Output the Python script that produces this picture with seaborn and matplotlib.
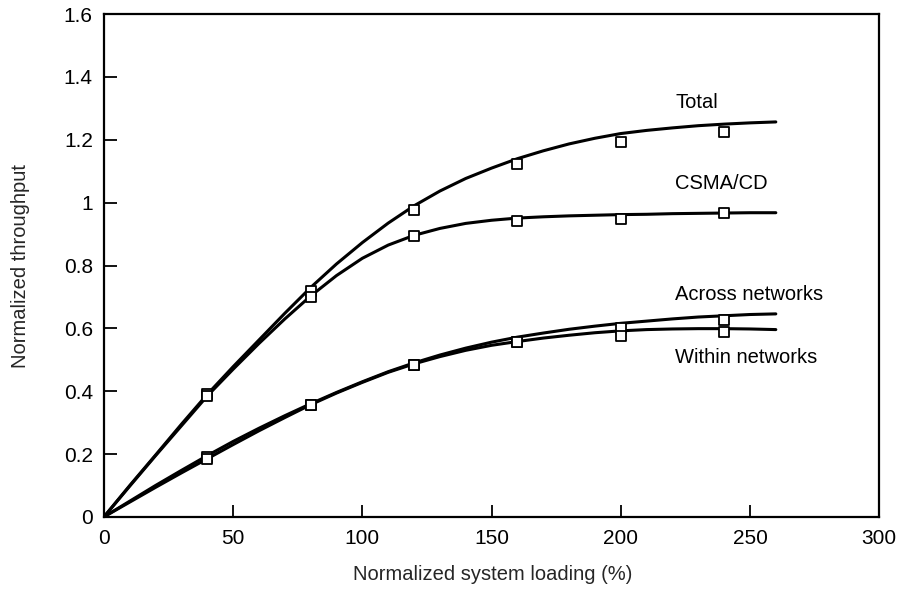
import matplotlib
matplotlib.use("Agg")
import matplotlib.pyplot as plt
import numpy as np
import pandas as pd
import seaborn as sns

# Smoothed throughput curves, read every 10 % of system loading
curve_load = [0, 10, 20, 30, 40, 50, 60, 70, 80, 90, 100, 110, 120, 130,
              140, 150, 160, 170, 180, 190, 200, 210, 220, 230, 240, 250, 260]
total_curve = [0, 0.10, 0.197, 0.295, 0.39, 0.478, 0.563, 0.648, 0.73, 0.805, 0.873, 0.935,
               0.99, 1.037, 1.077, 1.11, 1.14, 1.165, 1.187, 1.205, 1.22, 1.23, 1.238,
               1.245, 1.25, 1.254, 1.257]
csma_curve = [0, 0.098, 0.195, 0.29, 0.385, 0.47, 0.552, 0.63, 0.703, 0.768, 0.823, 0.865,
              0.896, 0.918, 0.934, 0.944, 0.951, 0.955, 0.958, 0.96, 0.962, 0.963, 0.965,
              0.966, 0.967, 0.968, 0.968]
across_curve = [0, 0.05, 0.10, 0.148, 0.195, 0.24, 0.282, 0.322, 0.36, 0.396, 0.43, 0.462,
                0.49, 0.515, 0.537, 0.556, 0.572, 0.585, 0.597, 0.607, 0.616, 0.623, 0.63,
                0.636, 0.64, 0.644, 0.646]
within_curve = [0, 0.047, 0.094, 0.14, 0.185, 0.23, 0.274, 0.316, 0.357, 0.394, 0.428, 0.46,
                0.487, 0.51, 0.53, 0.546, 0.558, 0.569, 0.578, 0.586, 0.592, 0.596, 0.598,
                0.599, 0.599, 0.598, 0.596]

# Measured points (open squares)
point_load = [40, 80, 120, 160, 200, 240]
total_pts = [0.39, 0.72, 0.978, 1.122, 1.193, 1.225]
csma_pts = [0.385, 0.70, 0.893, 0.943, 0.949, 0.968]
across_pts = [0.19, 0.357, 0.482, 0.556, 0.600, 0.628]
within_pts = [0.185, 0.357, 0.482, 0.556, 0.575, 0.587]

series_names = ["Total", "CSMA/CD", "Across networks", "Within networks"]
label_pos = {
    "Total": (221, 1.32),
    "CSMA/CD": (221, 1.061),
    "Across networks": (221, 0.708),
    "Within networks": (221, 0.508),
}

x_ticks = [0, 50, 100, 150, 200, 250, 300]
y_ticks = [0, 0.2, 0.4, 0.6, 0.8, 1, 1.2, 1.4, 1.6]
y_tick_labels = ["0", "0.2", "0.4", "0.6", "0.8", "1", "1.2", "1.4", "1.6"]

curves = pd.concat([
    pd.DataFrame({"load": curve_load, "throughput": vals, "series": name})
    for name, vals in zip(series_names, [total_curve, csma_curve, across_curve, within_curve])
])
points = pd.concat([
    pd.DataFrame({"load": point_load, "throughput": vals, "series": name})
    for name, vals in zip(series_names, [total_pts, csma_pts, across_pts, within_pts])
])

sns.set_style("ticks")
plt.rcParams["font.family"] = ["Liberation Sans", "DejaVu Sans"]

fig = plt.figure(figsize=(9.12, 5.90), dpi=100)
ax = fig.add_axes([0.114, 0.124, 0.850, 0.852])

palette = {n: "black" for n in series_names}
sns.lineplot(data=curves, x="load", y="throughput", hue="series", palette=palette,
             linewidth=2.2, legend=False, ax=ax, estimator=None)
sns.scatterplot(data=points, x="load", y="throughput", hue="series", palette=palette,
                marker="s", s=50, linewidth=1.3, legend=False, ax=ax, zorder=5)
for coll in ax.collections:
    coll.set_facecolor("white")
    coll.set_edgecolor("black")

for name, (lx, ly) in label_pos.items():
    ax.text(lx, ly, name, fontsize=14.5, va="center", ha="left", color="black")

ax.set_xlim(0, 300)
ax.set_ylim(0, 1.6)
ax.set_xticks(x_ticks)
ax.set_xticklabels([str(t) for t in x_ticks])
ax.set_yticks(y_ticks)
ax.set_yticklabels(y_tick_labels)
ax.tick_params(direction="in", length=9, width=1.3, labelsize=15, colors="black")
ax.tick_params(axis="x", pad=9)
ax.tick_params(axis="y", pad=8)
for sp in ax.spines.values():
    sp.set_visible(True)
    sp.set_linewidth(1.6)
    sp.set_color("black")

ax.set_xlabel("Normalized system loading (%)", fontsize=14.5)
ax.set_ylabel("Normalized throughput", fontsize=14.5)
ax.xaxis.set_label_coords(0.502, -0.115)
ax.xaxis.label.set_va("center")
ax.yaxis.set_label_coords(-0.108, 0.5)
ax.yaxis.label.set_va("center")

fig.savefig("out.png", dpi=100)
